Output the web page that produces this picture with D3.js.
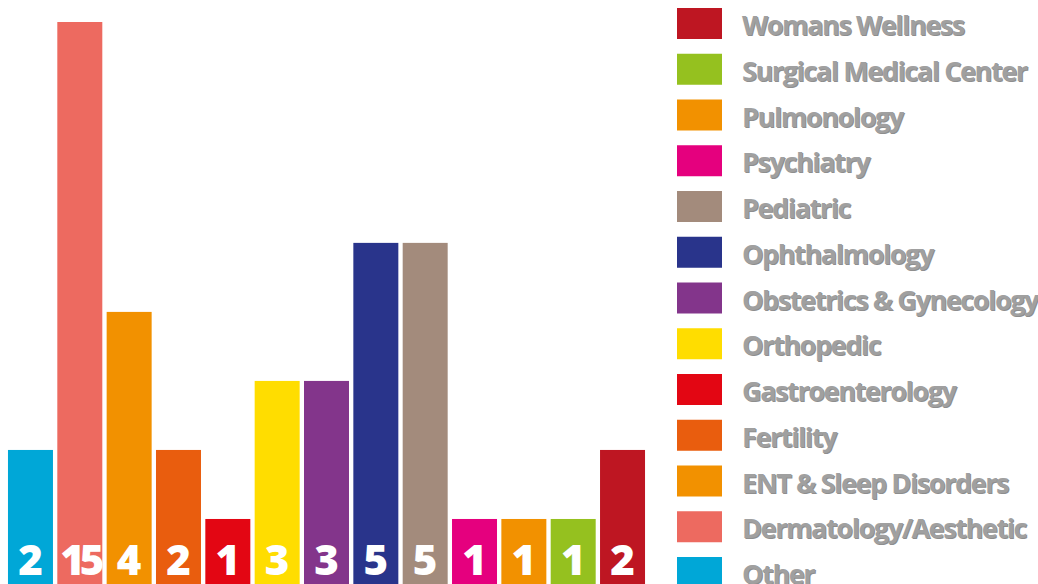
<!DOCTYPE html>
<html><head><meta charset="utf-8">
<script src="https://cdn.jsdelivr.net/npm/d3@7"></script>
<style>
html,body{margin:0;padding:0;background:#fff;overflow:hidden;}
svg{display:block;}
</style></head>
<body>
<svg id="chart" width="1038" height="584"></svg>
<script>
const categories = ["Other","Dermatology/Aesthetic","ENT & Sleep Disorders","Fertility","Gastroenterology","Orthopedic","Obstetrics & Gynecology","Ophthalmology","Pediatric","Psychiatry","Pulmonology","Surgical Medical Center","Womans Wellness"];
const values = [2,15,4,2,1,3,3,5,5,1,1,1,2];
const colors = ["#00a7d7","#ed6a60","#f29100","#e95d0e","#e30613","#ffdd00","#83358b","#29348b","#a38b7c","#e5007e","#f29100","#95c11f","#be1622"];

const svg = d3.select("#chart");

const x = d3.scaleBand().domain(categories).range([5.8, 647.2]).paddingInner(0.088).paddingOuter(0.044);
const y = d3.scaleLinear().domain([0, 8.2]).range([588, 22]).clamp(true);

const data = categories.map((c,i)=>({c, v: values[i], col: colors[i]}));

svg.append("g").selectAll("rect").data(data).join("rect")
  .attr("x", d=>x(d.c)).attr("width", x.bandwidth())
  .attr("y", d=>y(d.v)).attr("height", d=>y(0)-y(d.v))
  .attr("fill", d=>d.col);

svg.append("g").selectAll("text").data(data).join("text")
  .attr("x", d=>x(d.c)+x.bandwidth()/2)
  .attr("y", 575)
  .attr("text-anchor","middle")
  .attr("fill","#fff")
  .attr("font-family","'Open Sans', sans-serif")
  .attr("font-weight","800")
  .attr("font-size", 42)
  .attr("letter-spacing", d=>String(d.v).length>1 ? -5 : 0)
  .text(d=>d.v);

// legend (reverse order)
const legendItems = data.slice().reverse();
const ly = d3.scalePoint().domain(legendItems.map(d=>d.c)).range([8, 557]);
const lg = svg.append("g").selectAll("g").data(legendItems).join("g")
  .attr("transform", d=>`translate(0,${ly(d.c)})`);
lg.append("rect").attr("x",677).attr("width",45).attr("height",31).attr("fill",d=>d.col);
const txt = (g, dx, dy, fill) => g.append("text")
  .attr("x",742+dx).attr("y",27+dy)
  .attr("fill",fill)
  .attr("font-family","'Open Sans', sans-serif")
  .attr("font-weight","700")
  .attr("font-size",27)
  .attr("letter-spacing",-1.4)
  .text(d=>d.c);
txt(lg, 1, 1, "#8e8e8e");
txt(lg, 0, 0, "#a0a0a0");
</script>
</body></html>
